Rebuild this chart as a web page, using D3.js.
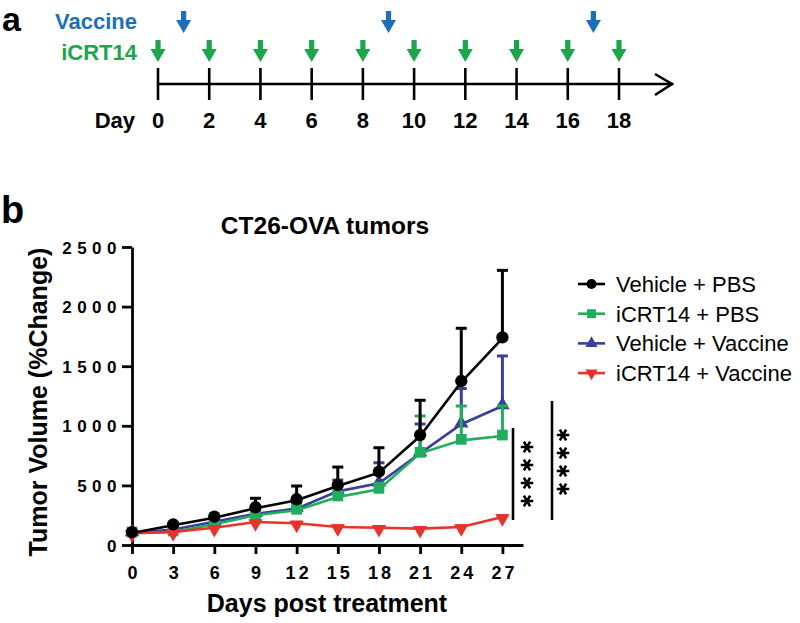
<!DOCTYPE html>
<html>
<head>
<meta charset="utf-8">
<script src="https://cdn.jsdelivr.net/npm/d3@7"></script>
<style>
  html, body { margin: 0; padding: 0; background: #fff; }
  svg { display: block; font-family: Arial, "Liberation Sans", sans-serif; }
</style>
</head>
<body>
<svg id="chart" width="800" height="623"></svg>
<script>
// ---------- Panel a: dosing schedule ----------
const scheduleTicks = [0, 2, 4, 6, 8, 10, 12, 14, 16, 18];
const vaccineDays = [1, 9, 17];
const icrtDays = [0, 2, 4, 6, 8, 10, 12, 14, 16, 18];

// ---------- Panel b: tumor growth ----------
const days = [0, 3, 6, 9, 12, 15, 18, 21, 24, 27];
const groupNames = ["Vehicle + PBS", "iCRT14 + PBS", "Vehicle + Vaccine", "iCRT14 + Vaccine"];
const vehiclePBS      = [100, 165, 229, 308, 375, 495, 607, 914, 1367, 1734];
const vehiclePBSErr   = [8, 15, 16, 84, 120, 159, 209, 300, 451, 570];
const icrtPBS         = [100, 109, 174, 249, 291, 403, 467, 769, 878, 914];
const icrtPBSErr      = [5, 10, 15, 20, 30, 40, 50, 313, 288, 252];
const vehicleVaccine  = [100, 130, 195, 262, 305, 450, 518, 769, 1013, 1166];
const vehicleVaccineErr = [5, 12, 20, 30, 50, 95, 172, 246, 300, 420];
const icrtVaccine     = [100, 110, 145, 193, 182, 151, 145, 137, 151, 235];
const icrtVaccineErr  = [3, 5, 8, 10, 10, 10, 8, 8, 10, 12];
const yTicks = [0, 500, 1000, 1500, 2000, 2500];
const sigStars = ["*", "*", "*", "*"];

const svg = d3.select("#chart");

// ======== Panel a ========
const colVac = "#1c6fb8", colIcrt = "#1ca64c";
svg.append("text").attr("x", 2).attr("y", 31).attr("font-size", 34).attr("font-weight", "bold").text("a");
svg.append("text").attr("x", 137).attr("y", 29).attr("text-anchor", "end")
  .attr("font-size", 22).attr("font-weight", "bold").attr("fill", colVac).text("Vaccine");
svg.append("text").attr("x", 137).attr("y", 60).attr("text-anchor", "end")
  .attr("font-size", 22).attr("font-weight", "bold").attr("fill", colIcrt).text("iCRT14");

const xa = d3.scaleLinear().domain([0, 18]).range([158, 619]);
const gA = svg.append("g");
gA.append("line").attr("x1", xa(0)).attr("x2", 673).attr("y1", 84).attr("y2", 84)
  .attr("stroke", "#000").attr("stroke-width", 2.6);
gA.append("path").attr("d", "M655,74 L672,84 L655,95").attr("fill", "none")
  .attr("stroke", "#000").attr("stroke-width", 2.6);
gA.selectAll("line.tk").data(scheduleTicks).join("line").attr("class", "tk")
  .attr("x1", d => xa(d)).attr("x2", d => xa(d)).attr("y1", 68).attr("y2", 100)
  .attr("stroke", "#000").attr("stroke-width", 2.6);
gA.selectAll("text.tl").data(scheduleTicks).join("text").attr("class", "tl")
  .attr("x", d => xa(d)).attr("y", 128).attr("text-anchor", "middle")
  .attr("font-size", 22).attr("font-weight", "bold").text(d => d);
gA.append("text").attr("x", 135).attr("y", 128).attr("text-anchor", "end")
  .attr("font-size", 22).attr("font-weight", "bold").text("Day");

function arrowPath(x, top) {
  return `M${x - 2.6},${top} L${x + 2.6},${top} L${x + 2.6},${top + 9} L${x + 7.5},${top + 9} L${x},${top + 22} L${x - 7.5},${top + 9} L${x - 2.6},${top + 9} Z`;
}
gA.selectAll("path.va").data(vaccineDays).join("path").attr("class", "va")
  .attr("d", d => arrowPath(xa(d), 11)).attr("fill", colVac);
gA.selectAll("path.ia").data(icrtDays).join("path").attr("class", "ia")
  .attr("d", d => arrowPath(xa(d), 40)).attr("fill", colIcrt);

// ======== Panel b ========
svg.append("text").attr("x", 1).attr("y", 223).attr("font-size", 38).attr("font-weight", "bold").text("b");

const x = d3.scaleLinear().domain([0, 28.5]).range([132, 523]);
const y = d3.scaleLinear().domain([0, 2500]).range([545, 247]);

svg.append("text").attr("x", 325).attr("y", 234).attr("text-anchor", "middle")
  .attr("font-size", 24.5).attr("font-weight", "bold").text("CT26-OVA tumors");

const xAxis = svg.append("g").attr("transform", "translate(0,545)")
  .call(d3.axisBottom(x).tickValues(days).tickFormat(d3.format("d")).tickSize(9).tickSizeOuter(0).tickPadding(10));
const yAxis = svg.append("g").attr("transform", "translate(132,0)")
  .call(d3.axisLeft(y).tickValues(yTicks).tickFormat(d3.format("d")).tickSize(10).tickSizeOuter(0).tickPadding(4));
[xAxis, yAxis].forEach(g => {
  g.select(".domain").attr("stroke", "#000").attr("stroke-width", 2.8);
  g.selectAll(".tick line").attr("stroke", "#000").attr("stroke-width", 2.8);
  g.selectAll(".tick text").attr("fill", "#000").attr("font-weight", "bold")
    .attr("font-family", "Arial, 'Liberation Sans', sans-serif");
});
xAxis.selectAll(".tick text").attr("font-size", 18).attr("letter-spacing", "3px").attr("dx", 1.5).attr("dy", "0.85em");
yAxis.selectAll(".tick text").attr("font-size", 17).attr("letter-spacing", "5.5px").attr("dx", 4).attr("dy", "0.36em");

svg.append("text").attr("x", 327).attr("y", 612).attr("text-anchor", "middle")
  .attr("font-size", 25).attr("font-weight", "bold").text("Days post treatment");
svg.append("text").attr("transform", "translate(47,402) rotate(-90)").attr("text-anchor", "middle")
  .attr("font-size", 25).attr("font-weight", "bold").text("Tumor Volume (%Change)");

const series = [
  { name: groupNames[2], vals: vehicleVaccine, err: vehicleVaccineErr, color: "#3a3f98", sym: d3.symbolTriangle, size: 90, rot: 0 },
  { name: groupNames[1], vals: icrtPBS, err: icrtPBSErr, color: "#1fae5c", sym: d3.symbolSquare, size: 115, rot: 0 },
  { name: groupNames[3], vals: icrtVaccine, err: icrtVaccineErr, color: "#e8322e", sym: d3.symbolTriangle, size: 90, rot: 180 },
  { name: groupNames[0], vals: vehiclePBS, err: vehiclePBSErr, color: "#000000", sym: d3.symbolCircle, size: 120, rot: 0 }
];

const line = d3.line().x((d, i) => x(days[i])).y(d => y(d));
series.forEach(s => {
  const g = svg.append("g");
  g.selectAll("line.eb").data(s.vals).join("line").attr("class", "eb")
    .attr("x1", (d, i) => x(days[i])).attr("x2", (d, i) => x(days[i]))
    .attr("y1", d => y(d)).attr("y2", (d, i) => y(d + s.err[i]))
    .attr("stroke", s.color).attr("stroke-width", 3);
  g.selectAll("line.cap").data(s.vals).join("line").attr("class", "cap")
    .attr("x1", (d, i) => x(days[i]) - 5.5).attr("x2", (d, i) => x(days[i]) + 5.5)
    .attr("y1", (d, i) => y(d + s.err[i])).attr("y2", (d, i) => y(d + s.err[i]))
    .attr("stroke", s.color).attr("stroke-width", 3);
  g.append("path").datum(s.vals).attr("d", line).attr("fill", "none")
    .attr("stroke", s.color).attr("stroke-width", 2.6);
  g.selectAll("path.m").data(s.vals).join("path").attr("class", "m")
    .attr("d", d3.symbol().type(s.sym).size(s.size))
    .attr("transform", (d, i) => `translate(${x(days[i])},${y(d) + (s.rot ? 1.5 : -1)}) rotate(${s.rot})`)
    .attr("fill", s.color);
});

// significance brackets
const sig = svg.append("g");
const sigLines = [
  { x: 513, top: 428, bottom: 520, starX: 527, starY0: 447 },
  { x: 552, top: 401, bottom: 520, starX: 563, starY0: 435 }
];
sigLines.forEach(b => {
  sig.append("line").attr("x1", b.x).attr("x2", b.x).attr("y1", b.top).attr("y2", b.bottom)
    .attr("stroke", "#000").attr("stroke-width", 2.6);
  sig.selectAll(null).data(sigStars).join("path")
    .attr("d", d3.symbol().type(d3.symbolAsterisk).size(110))
    .attr("transform", (d, i) => `translate(${b.starX},${b.starY0 + i * 18}) rotate(90)`)
    .attr("fill", "none").attr("stroke", "#000").attr("stroke-width", 2.6);
});

// legend
const legendOrder = [
  { name: groupNames[0], color: "#000000", sym: d3.symbolCircle, size: 80, rot: 0 },
  { name: groupNames[1], color: "#1fae5c", sym: d3.symbolSquare, size: 80, rot: 0 },
  { name: groupNames[2], color: "#3a3f98", sym: d3.symbolTriangle, size: 65, rot: 0 },
  { name: groupNames[3], color: "#e8322e", sym: d3.symbolTriangle, size: 65, rot: 180 }
];
const leg = svg.append("g");
legendOrder.forEach((s, i) => {
  const cy = 284 + i * 29.7;
  leg.append("line").attr("x1", 578).attr("x2", 605).attr("y1", cy).attr("y2", cy)
    .attr("stroke", s.color).attr("stroke-width", 2.6);
  leg.append("path").attr("d", d3.symbol().type(s.sym).size(s.size)())
    .attr("transform", `translate(591.5,${cy}) rotate(${s.rot})`).attr("fill", s.color);
  leg.append("text").attr("x", 616).attr("y", cy + 8).attr("font-size", 22).text(s.name);
});
</script>
</body>
</html>
